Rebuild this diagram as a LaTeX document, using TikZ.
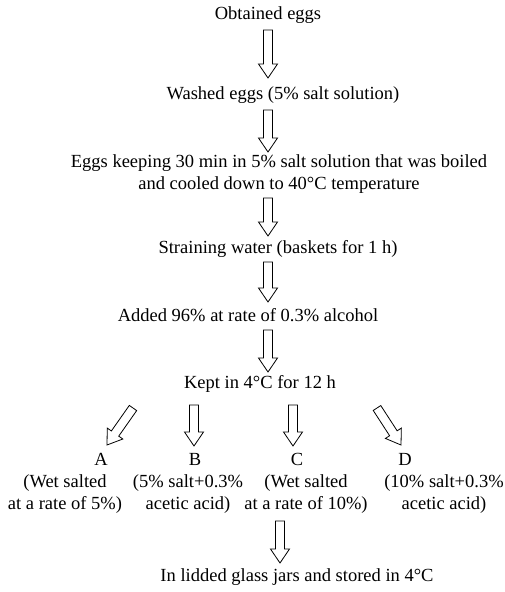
\documentclass[tikz,border=0pt]{standalone}
\usepackage{fontspec}
\setmainfont{Liberation Serif}
\usetikzlibrary{calc}
\tikzset{
  lbl/.style={inner sep=0pt, font=\fontsize{18.5}{21.5}\selectfont, align=center},
  blk/.style={draw=black, line width=0.8pt, fill=white, line join=miter},
}
\newcommand\blockarrow[2]{%
  \coordinate (bh) at ($(#2)!14pt!(#1)$);
  \draw[blk] ($(#1)!4.5pt!90:(#2)$) -- ($(bh)!4.5pt!90:(#2)$) -- ($(bh)!9.5pt!90:(#2)$)
    -- (#2) -- ($(bh)!9.5pt!-90:(#2)$) -- ($(bh)!4.5pt!-90:(#2)$) -- ($(#1)!4.5pt!-90:(#2)$) -- cycle;
}
\begin{document}
\begin{tikzpicture}[x=1pt,y=-1pt]
\useasboundingbox[fill=white] (0,0) rectangle (505,592);
% nodes
\node[lbl] (n1) at (268,15) {Obtained eggs};
\node[lbl] (n2) at (283,95) {Washed eggs (5\% salt solution)};
\node[lbl] (n3) at (279,174) {Eggs keeping 30 min in 5\% salt solution that was boiled\\and cooled down to 40°C temperature};
\node[lbl] (n4) at (278,249) {Straining water (baskets for 1 h)};
\node[lbl] (n5) at (248,315) {Added 96\% at rate of 0.3\% alcohol};
\node[lbl] (n6) at (260,384) {Kept in 4°C for 12 h};
\node[lbl] (la) at (101,459) {A};
\node[lbl] (lb) at (195,459) {B};
\node[lbl] (lc) at (297,459) {C};
\node[lbl] (ld) at (405,459) {D};
\node[lbl] (ta) at (65,494) {(Wet salted\\at a rate of 5\%)};
\node[lbl] (tb) at (188,494) {(5\% salt+0.3\%\\acetic acid)};
\node[lbl] (tc) at (306,494) {(Wet salted\\at a rate of 10\%)};
\node[lbl] (td) at (444,494) {(10\% salt+0.3\%\\acetic acid)};
\node[lbl] (n7) at (297,577) {In lidded glass jars and stored in 4°C};
% arrow end points
\coordinate (a1s) at (268,30);  \coordinate (a1e) at (268,78);
\coordinate (a2s) at (268,110); \coordinate (a2e) at (268,152);
\coordinate (a3s) at (268,198); \coordinate (a3e) at (268,236);
\coordinate (a4s) at (268,262); \coordinate (a4e) at (268,302);
\coordinate (a5s) at (268,330); \coordinate (a5e) at (268,372);
\coordinate (aas) at (133,408); \coordinate (aae) at (107,445);
\coordinate (abs) at (194,405); \coordinate (abe) at (194,446);
\coordinate (acs) at (293,405); \coordinate (ace) at (293,446);
\coordinate (ads) at (377,408); \coordinate (ade) at (401,445);
\coordinate (a7s) at (280,521); \coordinate (a7e) at (280,563);
\blockarrow{a1s}{a1e}
\blockarrow{a2s}{a2e}
\blockarrow{a3s}{a3e}
\blockarrow{a4s}{a4e}
\blockarrow{a5s}{a5e}
\blockarrow{aas}{aae}
\blockarrow{abs}{abe}
\blockarrow{acs}{ace}
\blockarrow{ads}{ade}
\blockarrow{a7s}{a7e}
\end{tikzpicture}
\end{document}
